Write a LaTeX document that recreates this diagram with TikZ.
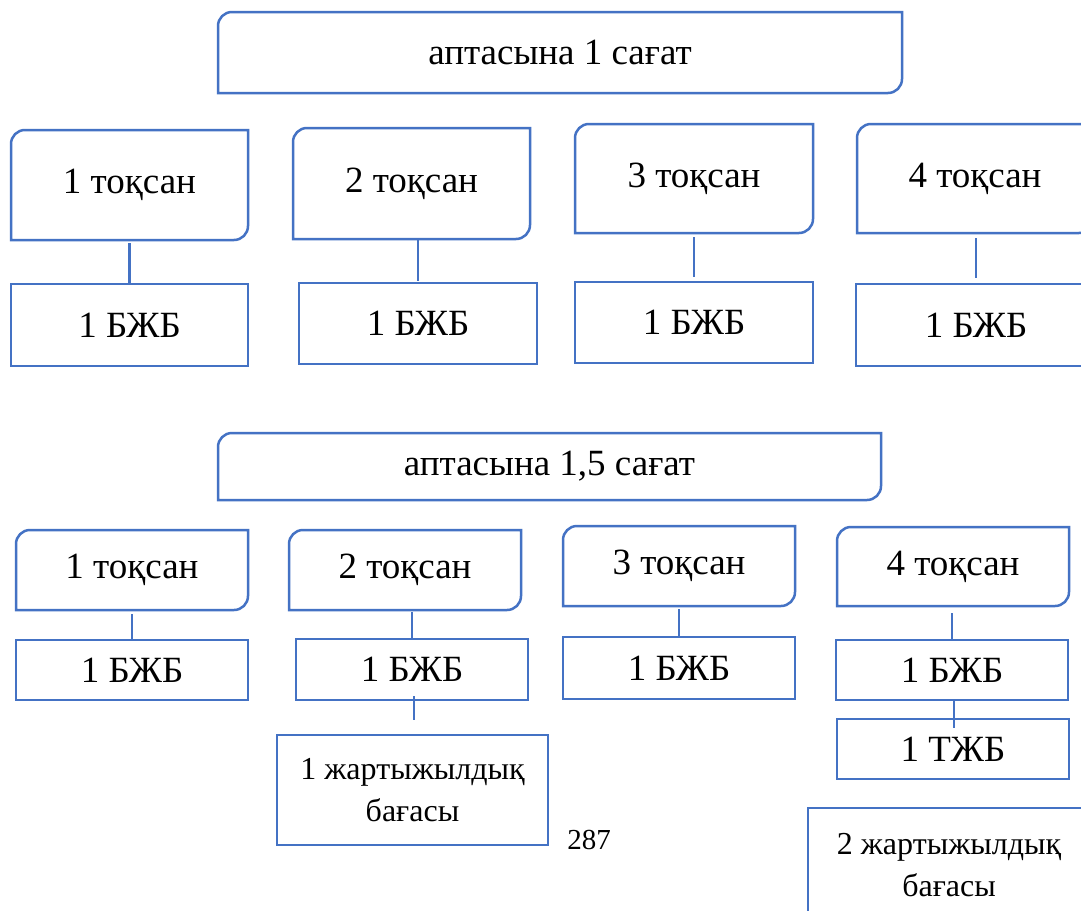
\documentclass[tikz,border=0pt]{standalone}
\usepackage{fontspec}
\setmainfont{Liberation Serif}
\definecolor{bblue}{HTML}{4472C4}
\tikzset{
  base/.style={inner sep=0pt, outer sep=0pt, align=center, font=\fontsize{37}{42}\selectfont},
  sqbox/.style={base, draw=bblue, line width=2.5pt},
  rdnode/.style={base},
  bxline/.style={draw=bblue, line width=2.5pt},
  conn/.style={draw=bblue, line width=2.5pt},
  twoline/.style={font=\fontsize{32}{42}\selectfont},
}
\newcommand\rdbox[1]{\draw[bxline] ([yshift=-14pt]#1.north west) arc[start angle=180,end angle=90,radius=14pt] -- (#1.north east) -- ([yshift=14pt]#1.south east) arc[start angle=0,end angle=-90,radius=14pt] -- (#1.south west) -- cycle;}
\begin{document}
\begin{tikzpicture}[x=1pt,y=-1pt]
\useasboundingbox (0,0) rectangle (1081,910);
\fill[white] (0,0) rectangle (1081,910);
\clip (0,0) rectangle (1081,910);
% section 1
\node[rdnode, minimum width=684pt, minimum height=81pt] (A) at (560,52.5) {аптасына 1 сағат};
\rdbox{A}
\node[rdnode, minimum width=237pt, minimum height=110pt] (q1) at (129.5,185) {1 тоқсан};
\node[rdnode, minimum width=237pt, minimum height=111pt] (q2) at (411.5,183.5) {2 тоқсан};
\node[rdnode, minimum width=238pt, minimum height=109pt] (q3) at (694,178.5) {3 тоқсан};
\node[rdnode, minimum width=236pt, minimum height=109pt] (q4) at (975,178.5) {4 тоқсан};
\rdbox{q1}\rdbox{q2}\rdbox{q3}\rdbox{q4}
\node[sqbox, minimum width=237pt, minimum height=82pt] (b1) at (129.5,325) {1 БЖБ};
\node[sqbox, minimum width=238pt, minimum height=81pt] (b2) at (418,323.5) {1 БЖБ};
\node[sqbox, minimum width=238pt, minimum height=81pt] (b3) at (694,322.5) {1 БЖБ};
\node[sqbox, minimum width=240pt, minimum height=82pt] (b4) at (976,325) {1 БЖБ};
\draw[conn, shorten <=3pt] (q1.south -| b1.north) -- (b1.north);
\draw[conn, shorten <=1pt, shorten >=2pt] (q2.south -| b2.north) -- (b2.north);
\draw[conn, shorten <=4pt, shorten >=5pt] (q3.south -| b3.north) -- (b3.north);
\draw[conn, shorten <=5pt, shorten >=6pt] (q4.south -| b4.north) -- (b4.north);
% section 2
\node[rdnode, minimum width=663pt, minimum height=67pt] (C) at (549.5,466.5) {аптасына 1,5 сағат};
\rdbox{C}
\node[rdnode, minimum width=232pt, minimum height=80pt] (p1) at (132,570) {1 тоқсан};
\node[rdnode, minimum width=232pt, minimum height=80pt] (p2) at (405,570) {2 тоқсан};
\node[rdnode, minimum width=232pt, minimum height=80pt] (p3) at (679,566) {3 тоқсан};
\node[rdnode, minimum width=232pt, minimum height=79pt] (p4) at (953,566.5) {4 тоқсан};
\rdbox{p1}\rdbox{p2}\rdbox{p3}\rdbox{p4}
\node[sqbox, minimum width=232pt, minimum height=60pt] (d1) at (132,670) {1 БЖБ};
\node[sqbox, minimum width=232pt, minimum height=61pt] (d2) at (412,669.5) {1 БЖБ};
\node[sqbox, minimum width=232pt, minimum height=62pt] (d3) at (679,668) {1 БЖБ};
\node[sqbox, minimum width=232pt, minimum height=60pt] (d4) at (952,670) {1 БЖБ};
\node[sqbox, minimum width=232pt, minimum height=60pt] (t) at (953,749) {1 ТЖБ};
\node[sqbox, twoline, minimum width=271pt, minimum height=110pt] (j1) at (412.5,790) {1 жартыжылдық\\бағасы};
\node[sqbox, twoline, minimum width=282pt, minimum height=114pt] (j2) at (949,865) {2 жартыжылдық\\бағасы};
\node[base, font=\fontsize{29}{32}\selectfont] (pg) at (589,840) {287};
\draw[conn, shorten <=4pt] (p1.south -| d1.north) -- (d1.north);
\draw[conn, shorten <=2pt] (p2.south -| d2.north) -- (d2.north);
\draw[conn, shorten <=3pt] (p3.south -| d3.north) -- (d3.north);
\draw[conn, shorten <=7pt] (p4.south -| d4.north) -- (d4.north);
\draw[conn, shorten <=-4pt, shorten >=15pt] ([xshift=2pt]d2.south) -- ([xshift=2pt]d2.south |- j1.north);
\draw[conn, shorten <=1pt, shorten >=-9pt] ([xshift=2pt]d4.south) -- ([xshift=2pt]d4.south |- t.north);
\end{tikzpicture}
\end{document}
